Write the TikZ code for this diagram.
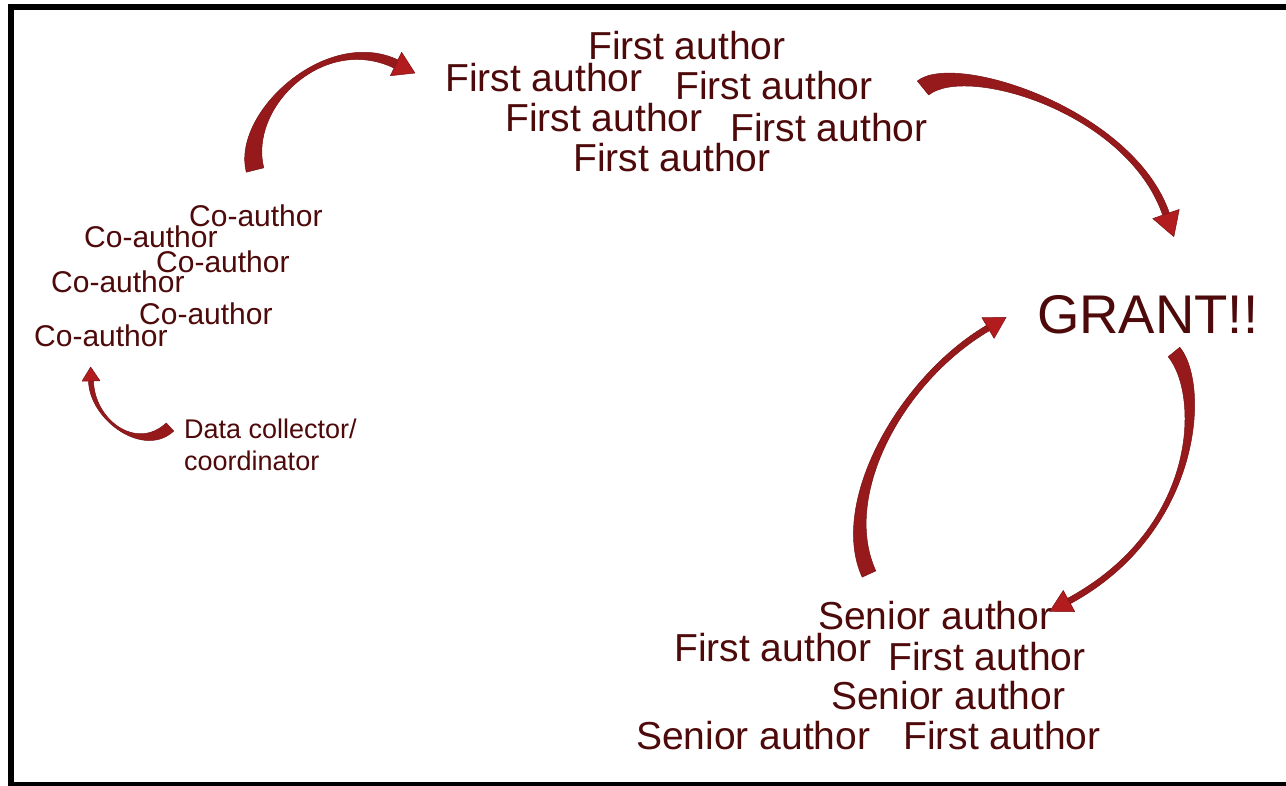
\documentclass[tikz,border=0pt]{standalone}
\usepackage{fontspec}
\setmainfont{Liberation Sans}
\usetikzlibrary{calc}
\definecolor{txt}{RGB}{78,10,10}
\definecolor{abody}{RGB}{150,25,27}
\definecolor{ahead}{RGB}{178,28,30}
\definecolor{aedge}{RGB}{122,18,20}
\tikzset{
  lbl/.style={inner sep=0pt, anchor=base west, text=txt},
  fa/.style={lbl, font=\fontsize{39}{46}\selectfont},
  ca/.style={lbl, font=\fontsize{30}{35}\selectfont},
  dcs/.style={lbl, font=\fontsize{27}{32}\selectfont, align=left},
  gr/.style={lbl, font=\fontsize{54.5}{60}\selectfont},
  arrowbody/.style={fill=abody, draw=aedge, line width=0.5pt, line join=round},
  arrowtip/.style={fill=ahead, draw=aedge, line width=0.5pt, line join=round},
  frame/.style={draw=black, line width=6pt}
}
% #1-#4: centre-line Bezier points; #5,#6: half widths at tail / head; #7 head half width; #8 head length
\newcommand\carrow[8]{%
  \path[arrowbody] ($(#1)!#5!90:(#2)$) .. controls ($(#2)!#5!-90:(#1)$) and ($(#3)!#6!90:(#4)$) .. ($(#4)!#6!-90:(#3)$)
     -- ($(#4)!#6!90:(#3)$) .. controls ($(#3)!#6!-90:(#4)$) and ($(#2)!#5!90:(#1)$) .. ($(#1)!#5!-90:(#2)$) -- cycle;
  \path[arrowtip] ($(#4)!#7!90:(#3)$) -- ($(#4)!#8!180:(#3)$) -- ($(#4)!#7!-90:(#3)$) -- cycle;
}
\begin{document}
\begin{tikzpicture}[x=1pt, y=-1pt]
\useasboundingbox (0,0) rectangle (1286,786);
\fill[white] (0,0) rectangle (1286,786);
% frame
\draw[frame] (1292,7) -- (11,7) -- (11,785) -- (1292,785);

% First author cluster
\node[fa] (fa1) at (588,60) {First author};
\node[fa] (fa2) at (445,92) {First author};
\node[fa] (fa3) at (675,100) {First author};
\node[fa] (fa4) at (505,132) {First author};
\node[fa] (fa5) at (730,142) {First author};
\node[fa] (fa6) at (573,172) {First author};

% Co-author cluster
\node[ca] (ca1) at (189,227) {Co-author};
\node[ca] (ca2) at (84,248) {Co-author};
\node[ca] (ca3) at (156,273) {Co-author};
\node[ca] (ca4) at (51,293) {Co-author};
\node[ca] (ca5) at (139,325) {Co-author};
\node[ca] (ca6) at (34,347) {Co-author};

% Data collector
\node[dcs] (dc) at (184,470) {Data collector/\\coordinator};

% GRANT
\node[gr] (grant) at (1037,334) {GRANT!!};

% bottom cluster
\node[fa] (sa1) at (818,629) {Senior author};
\node[fa] (fb1) at (674,661) {First author};
\node[fa] (fb2) at (888,670) {First author};
\node[fa] (sa2) at (831,709) {Senior author};
\node[fa] (sa3) at (636,749) {Senior author};
\node[fa] (fb3) at (903,749) {First author};

% arrow A : co-authors -> first authors
\coordinate (a0) at (255,170);
\coordinate (a1) at (240,110);
\coordinate (a2) at (325,30);
\coordinate (a3) at (396,64);
\carrow{a0}{a1}{a2}{a3}{9pt}{4.5pt}{13pt}{21pt}

% arrow B : first authors -> GRANT
\coordinate (b0) at (923,88);
\coordinate (b1) at (960,58);
\coordinate (b2) at (1130,110);
\coordinate (b3) at (1166,214);
\carrow{b0}{b1}{b2}{b3}{9pt}{3.5pt}{14pt}{24pt}

% arrow C : senior authors -> GRANT
\coordinate (c0) at (869,574);
\coordinate (c1) at (835,500);
\coordinate (c2) at (900,380);
\coordinate (c3) at (988,328);
\carrow{c0}{c1}{c2}{c3}{7.5pt}{3pt}{12pt}{21pt}

% arrow D : GRANT -> senior authors
\coordinate (d0) at (1174,352);
\coordinate (d1) at (1205,390);
\coordinate (d2) at (1200,530);
\coordinate (d3) at (1069,601);
\carrow{d0}{d1}{d2}{d3}{7.5pt}{3pt}{12pt}{22pt}

% arrow E : data collector -> co-authors
\coordinate (e0) at (170,427);
\coordinate (e1) at (140,455);
\coordinate (e2) at (92,420);
\coordinate (e3) at (91,381);
\carrow{e0}{e1}{e2}{e3}{5.5pt}{2.5pt}{9pt}{14pt}
\end{tikzpicture}
\end{document}
